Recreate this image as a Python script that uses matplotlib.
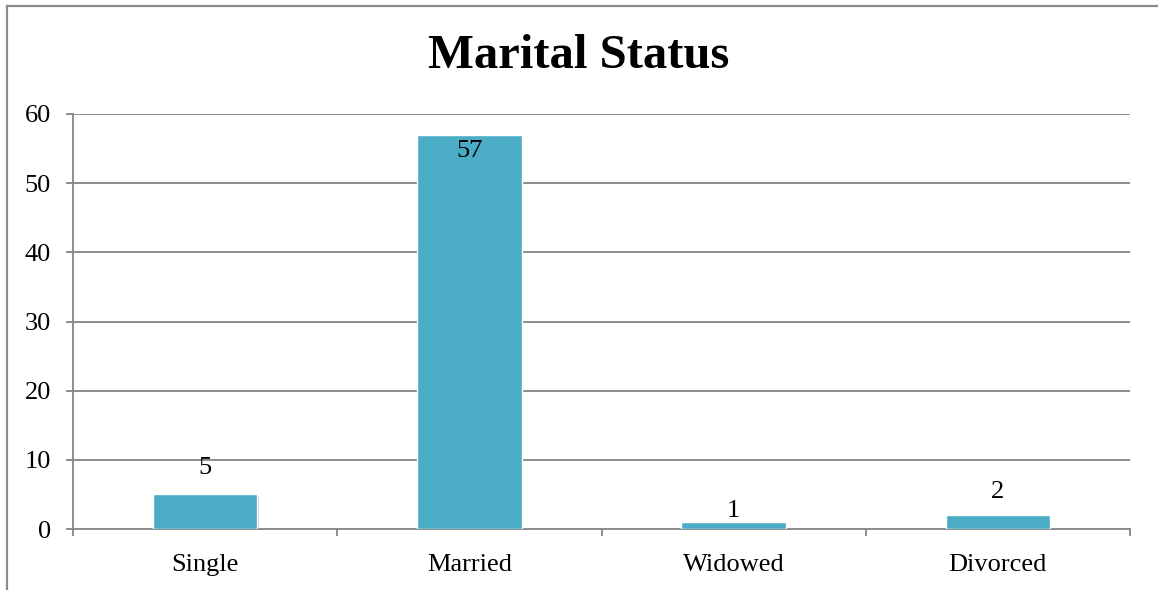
import matplotlib
matplotlib.use("Agg")
import matplotlib.pyplot as plt
import matplotlib.patheffects as pe
from matplotlib.lines import Line2D
import numpy as np

categories = ["Single", "Married", "Widowed", "Divorced"]
values = [5, 57, 1, 2]
yticks = [0, 10, 20, 30, 40, 50, 60]
title = "Marital Status"

# label offsets in points (style only)
label_offsets = [19, -11.5, 8, 16.5]

plt.rcParams['font.family'] = ['Liberation Serif', 'DejaVu Serif']

fig = plt.figure(figsize=(11.58, 5.90), dpi=100)
ax = fig.add_axes([73/1158, 1-529/590, (1130-73)/1158, (529-114)/590])

gray = "#8c8c8c"
fs = 19
x = np.arange(len(categories))
bars = ax.bar(x, values, width=0.395, color="#4BACC6", edgecolor="white", linewidth=1.0, zorder=3,
              path_effects=[pe.SimplePatchShadow(offset=(1, -1.5), shadow_rgbFace="#000000", alpha=0.18), pe.Normal()])

for xi, v, off in zip(x, values, label_offsets):
    ax.annotate(str(v), (xi, v), xytext=(0, off), textcoords="offset points",
                ha="center", va="center", fontsize=fs, color="black", zorder=5)

ax.set_xlim(-0.5, len(categories) - 0.5)
ax.set_ylim(0, 60)
ax.set_yticks(yticks)
ax.set_yticklabels([str(t) for t in yticks], fontsize=fs)
ax.yaxis.grid(True, color=gray, linewidth=1.4, zorder=0)
ax.set_axisbelow(True)

ax.set_xticks(x)
ax.set_xticklabels(categories, fontsize=fs)
ax.tick_params(axis='x', which='major', length=0, pad=18)
ax.set_xticks(np.arange(-0.5, len(categories)), minor=True)
ax.tick_params(axis='x', which='minor', length=5, width=1.4, color=gray, direction='out')
ax.tick_params(axis='y', length=5, width=1.4, color=gray, pad=11)

for s in ['top', 'right']:
    ax.spines[s].set_visible(False)
for s in ['left', 'bottom']:
    ax.spines[s].set_color(gray)
    ax.spines[s].set_linewidth(1.4)

fig.text(0.5, 1-56/590, title, ha="center", va="center", fontsize=35, fontweight="bold")

# outer border (left and top)
fig.add_artist(Line2D([7/1158, 7/1158], [0, 1-6/590], color=gray, linewidth=1.6, transform=fig.transFigure))
fig.add_artist(Line2D([7/1158, 1], [1-6/590, 1-6/590], color=gray, linewidth=1.6, transform=fig.transFigure))

fig.savefig("out.png", dpi=100)
